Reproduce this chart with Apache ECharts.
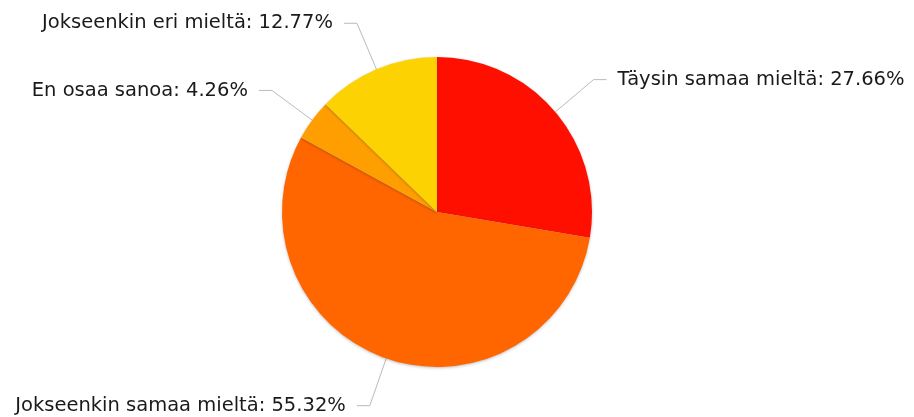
<!DOCTYPE html>
<html><head><meta charset="utf-8">
<script src="https://cdn.jsdelivr.net/npm/echarts@6/dist/echarts.min.js"></script>
<style>html,body{margin:0;padding:0;background:#fff}#c{width:914px;height:417px}</style>
</head><body><div id="c"></div>
<script>
const categories = ['Täysin samaa mieltä', 'Jokseenkin samaa mieltä', 'En osaa sanoa', 'Jokseenkin eri mieltä'];
const values = [27.66, 55.32, 4.26, 12.77];
const colors = ['#FF0F00', '#FF6600', '#FF9E01', '#FCD202'];

const chart = echarts.init(document.getElementById('c'));
chart.setOption({
  animation: false,
  backgroundColor: '#ffffff',
  series: [{
    type: 'pie',
    center: [437, 212],
    radius: 155,
    startAngle: 90,
    clockwise: true,
    avoidLabelOverlap: false,
    data: categories.map((n, i) => ({ name: n, value: values[i], itemStyle: { color: colors[i] } })),
    itemStyle: { borderWidth: 0, shadowBlur: 3, shadowColor: 'rgba(0,0,0,0.25)', shadowOffsetY: 1 },
    label: {
      show: true,
      formatter: p => p.name + ': ' + p.value.toFixed(2) + '%',
      fontFamily: 'DejaVu Sans',
      fontSize: 19.5,
      color: '#1a1a1a',
      padding: [10, 6, 0, 6]
    },
    labelLine: { show: true, length: 50, length2: 13, lineStyle: { color: '#bbbbbb', width: 1 } },
    emphasis: { disabled: true }
  }]
});
</script></body></html>
